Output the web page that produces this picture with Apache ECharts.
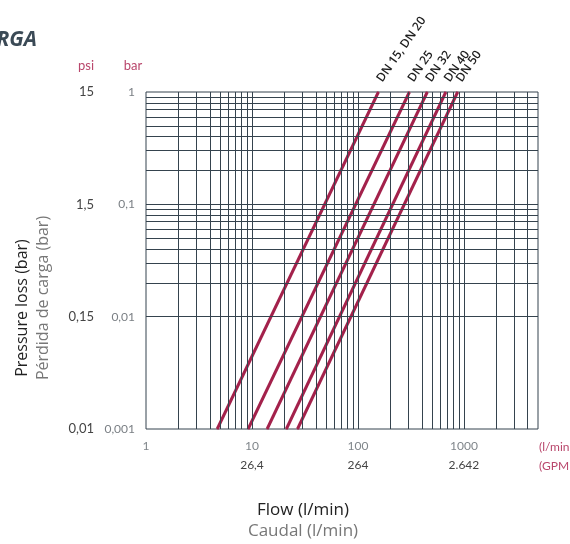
<!DOCTYPE html>
<html>
<head>
<meta charset="utf-8">
<script src="https://cdn.jsdelivr.net/npm/echarts@6/dist/echarts.min.js"></script>
<style>
html, body { margin: 0; padding: 0; background: #fff; }
#main { width: 570px; height: 544px; }
</style>
</head>
<body>
<div id="main"></div>
<script>
// curves: pressure loss vs flow, read at both ends of each line
const seriesNames = ['DN 15, DN 20', 'DN 25', 'DN 32', 'DN 40', 'DN 50']
const flowAtMinLoss = [4.7, 9.2, 13.9, 21.1, 26.9] // l/min at 0,001 bar
const flowAtMaxLoss = [156, 306, 451, 675, 873] // l/min at 1 bar
const lossRange = [0.001, 1]

// axis labels, one per decade
const flowTickLabels = ['1', '10', '100', '1000']
const gpmTickLabels = ['', '26,4', '264', '2.642']
const barTickLabels = ['0,001', '0,01', '0,1', '1']
const psiTickLabels = ['0,01', '0,15', '1,5', '15']

// log paper grid lines
const flowGrid = [2, 3, 4, 5, 6, 7, 8, 9, 10, 20, 30, 40, 50, 60, 70, 80, 90, 100,
    200, 300, 400, 500, 600, 700, 800, 900, 1000, 2000, 3000, 4000]
const lossGrid = [0.002, 0.003, 0.004, 0.005, 0.006, 0.007, 0.008, 0.009, 0.01,
    0.02, 0.03, 0.04, 0.05, 0.06, 0.07, 0.08, 0.09, 0.1,
    0.2, 0.3, 0.4, 0.5, 0.6, 0.7, 0.8, 0.9]

const red = '#a3214b'
const pink = '#b9476c'
const gridColor = '#35434e'

const decade = v => {
    const e = Math.log10(v)
    const r = Math.round(e)
    return Math.abs(e - r) < 0.01 ? r : null
}

const chart = echarts.init(document.getElementById('main'))

const lineSeries = seriesNames.map((name, i) => ({
    name,
    type: 'line',
    z: 3,
    symbol: 'circle',
    symbolSize: 1,
    showSymbol: true,
    itemStyle: { color: red },
    lineStyle: { color: red, width: 3 },
    label: { show: false },
    data: [
        [flowAtMinLoss[i], lossRange[0]],
        {
            value: [flowAtMaxLoss[i], lossRange[1]],
            label: {
                show: true,
                formatter: name,
                position: 'top',
                distance: 9,
                offset: [2, 0],
                align: 'left',
                verticalAlign: 'middle',
                rotate: 55,
                color: '#1e1e1e',
                fontSize: 12,
                fontWeight: 600,
                fontFamily: 'Open Sans'
            }
        }
    ]
}))

const option = {
    animation: false,
    grid: {
        left: 146,
        top: 92,
        width: 392,
        height: 337,
        show: true,
        borderColor: gridColor,
        borderWidth: 1
    },
    xAxis: {
        type: 'log',
        logBase: 10,
        min: 1,
        max: 5000,
        axisLine: { show: false },
        axisTick: { show: false },
        splitLine: { show: false },
        axisLabel: {
            margin: 8,
            formatter: v => {
                const d = decade(v)
                if (d === null || !flowTickLabels[d]) return ''
                return gpmTickLabels[d]
                    ? '{a|' + flowTickLabels[d] + '}\n{b|' + gpmTickLabels[d] + '}'
                    : '{a|' + flowTickLabels[d] + '}'
            },
            rich: {
                a: { color: '#80868b', fontSize: 12, fontFamily: 'Lato', lineHeight: 19 },
                b: { color: '#444', fontSize: 12, fontFamily: 'Lato', lineHeight: 19 }
            }
        }
    },
    yAxis: [
        {
            type: 'log',
            logBase: 10,
            min: 0.001,
            max: 1,
            position: 'left',
            axisLine: { show: false },
            axisTick: { show: false },
            splitLine: { show: false },
            axisLabel: {
                margin: 11,
                color: '#7a7f84',
                fontSize: 12,
                fontFamily: 'Lato',
                formatter: v => {
                    const d = decade(v)
                    return d === null ? '' : barTickLabels[d + 3] || ''
                }
            }
        },
        {
            type: 'log',
            logBase: 10,
            min: 0.001,
            max: 1,
            position: 'left',
            offset: 41,
            axisLine: { show: false },
            axisTick: { show: false },
            splitLine: { show: false },
            axisLabel: {
                margin: 11,
                color: '#444',
                fontSize: 13,
                fontFamily: 'Lato',
                formatter: v => {
                    const d = decade(v)
                    return d === null ? '' : psiTickLabels[d + 3] || ''
                }
            }
        }
    ],
    graphic: [
        { type: 'text', x: 37, y: 40, style: { text: 'CARGA', align: 'right', verticalAlign: 'middle', fill: '#3b4a56', font: 'italic bold 21px "Open Sans"' } },
        { type: 'text', x: 86, y: 66, style: { text: 'psi', align: 'center', verticalAlign: 'middle', fill: pink, font: '13px Lato' } },
        { type: 'text', x: 133, y: 66, style: { text: 'bar', align: 'center', verticalAlign: 'middle', fill: pink, font: '13px Lato' } },
        { type: 'text', x: 539, y: 447, style: { text: '(l/min', align: 'left', verticalAlign: 'middle', fill: pink, font: '12px Lato' } },
        { type: 'text', x: 539, y: 466, style: { text: '(GPM', align: 'left', verticalAlign: 'middle', fill: pink, font: '12px Lato' } },
        { type: 'text', x: 22, y: 308, rotation: Math.PI / 2, style: { text: 'Pressure loss (bar)', align: 'center', verticalAlign: 'middle', fill: '#222', font: '16px "Open Sans"' } },
        { type: 'text', x: 43, y: 298, rotation: Math.PI / 2, style: { text: 'Pérdida de carga (bar)', align: 'center', verticalAlign: 'middle', fill: '#777', font: '16px "Open Sans"' } },
        { type: 'text', x: 303, y: 510, style: { text: 'Flow (l/min)', align: 'center', verticalAlign: 'middle', fill: '#222', font: '17px "Open Sans"' } },
        { type: 'text', x: 303, y: 531, style: { text: 'Caudal (l/min)', align: 'center', verticalAlign: 'middle', fill: '#777', font: '17px "Open Sans"' } }
    ],
    series: [
        {
            type: 'line',
            z: 1,
            silent: true,
            symbol: 'none',
            data: [],
            markLine: {
                silent: true,
                symbol: 'none',
                animation: false,
                label: { show: false },
                lineStyle: { color: gridColor, width: 1, type: 'solid' },
                emphasis: { disabled: true },
                data: flowGrid.map(v => ({ xAxis: v })).concat(lossGrid.map(v => ({ yAxis: v })))
            }
        },
        ...lineSeries
    ]
}

chart.setOption(option)
</script>
</body>
</html>
